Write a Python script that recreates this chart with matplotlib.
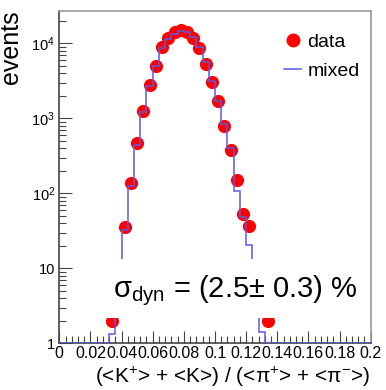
import numpy as np
import matplotlib
matplotlib.use("Agg")
import matplotlib.pyplot as plt
from matplotlib.lines import Line2D
from matplotlib.patches import Rectangle

plt.rcParams['font.family'] = ['Liberation Sans', 'DejaVu Sans']
plt.rcParams['mathtext.fontset'] = 'custom'
plt.rcParams['mathtext.rm'] = 'Liberation Sans'
plt.rcParams['mathtext.it'] = 'Liberation Sans:italic'
plt.rcParams['mathtext.sf'] = 'Liberation Sans'

# Measured (data) histogram: bin centres and counts
data_x = [0.034, 0.042, 0.046, 0.050, 0.054, 0.058, 0.062, 0.066, 0.070,
          0.074, 0.078, 0.082, 0.086, 0.090, 0.094, 0.098, 0.102, 0.106,
          0.110, 0.114, 0.118, 0.122, 0.134]
data_y = [2, 35, 136, 470, 1250, 2780, 5000, 8850, 11700,
          14000, 15000, 14000, 11700, 8600, 5250, 3080, 1700, 800,
          378, 150, 53, 37, 2]

# Mixed-event histogram: bin edges 0..0.2 in steps of 0.004
mixed_edges = np.round(np.arange(0, 0.2001, 0.004), 3)
mixed_counts = [0, 0, 0, 0, 0, 0, 0, 0, 1.35, 5,
                32, 125, 440, 1200, 2700, 5000, 8600, 11500, 13300, 14600,
                14200, 12200, 9000, 5600, 3100, 1700, 850, 400, 108, 48,
                20.5, 4, 1.4, 0, 0, 0, 0, 0, 0, 0,
                0, 0, 0, 0, 0, 0, 0, 0, 0, 0]

xticks = [0, 0.02, 0.04, 0.06, 0.08, 0.1, 0.12, 0.14, 0.16, 0.18, 0.2]
xtick_labels = ['0', '0.02', '0.04', '0.06', '0.08', '0.1', '0.12', '0.14',
                '0.16', '0.18', '0.2']
yticks = [1, 10, 100, 1000, 10000]
ytick_labels = ['1', '10', r'10$^{2}$', r'10$^{3}$', r'10$^{4}$']

fig = plt.figure(figsize=(3.86, 3.90), dpi=100)
ax = fig.add_axes([0.1536, 0.1197, 0.8068, 0.8529])

ymin, ymax = 1, 27200
ax.set_xlim(0, 0.2)
ax.set_ylim(ymin, ymax)
ax.set_yscale('log')

ax.plot(data_x, data_y, 'o', color='#ff0000', markersize=9.5,
        markeredgewidth=0, zorder=2)

counts = np.maximum(np.array(mixed_counts, dtype=float), ymin)
ax.stairs(counts, mixed_edges, color='#5a5ae6', linewidth=1.1, zorder=3,
          baseline=None)

# white label box holding the fluctuation result
ax.add_patch(Rectangle((0.022, 2.15), 0.175, 13.3 - 2.15, facecolor='white',
                       edgecolor='none', zorder=4))
ax.text(0.0345, 5.0, 'σ$_{\\rm dyn}$ = (2.5$\\pm$ 0.3) %', fontsize=21,
        va='center', ha='left', zorder=5)

# ticks
ax.set_xticks(xticks)
ax.set_xticklabels(xtick_labels, fontsize=11.5)
ax.set_xticks(np.arange(0, 0.2001, 0.004), minor=True)
ax.set_yticks(yticks)
ax.set_yticklabels(ytick_labels, fontsize=10.5)
ax.tick_params(axis='both', which='major', direction='in', length=9,
               width=0.8, color='#444444', pad=3)
ax.tick_params(axis='both', which='minor', direction='in', length=5,
               width=0.8, color='#444444')
ax.tick_params(axis='x', which='major', pad=2)
for s in ['left', 'bottom']:
    ax.spines[s].set_color('#444444')
for s in ['top', 'right']:
    ax.spines[s].set_color('#999999')
for s in ax.spines.values():
    s.set_linewidth(1.2)

ax.set_ylabel('events', fontsize=18, loc='top', labelpad=6)
ax.set_xlabel('(<K$^{+}$> + <K>) / (<π$^{+}$> + <π$^{-}$>)',
              fontsize=15, loc='right', labelpad=3)

handles = [Line2D([], [], marker='o', color='#ff0000', linestyle='none',
                  markersize=10, markeredgewidth=0),
           Line2D([], [], color='#5a5ae6', linewidth=1.1)]
ax.legend(handles, ['data', 'mixed'], loc='upper right', frameon=False,
          fontsize=14, bbox_to_anchor=(1.02, 0.985), handlelength=0.9,
          handletextpad=0.3, labelspacing=0.6)

fig.savefig('out.png', dpi=100)
